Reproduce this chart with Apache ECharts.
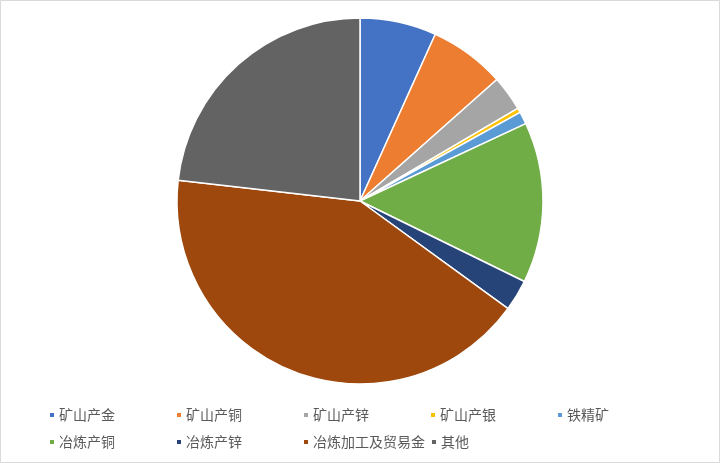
<!DOCTYPE html>
<html><head><meta charset="utf-8">
<script src="https://cdn.jsdelivr.net/npm/echarts@6/dist/echarts.min.js"></script>
<style>html,body{margin:0;padding:0;background:#fff}#c{width:720px;height:463px}</style>
</head><body><div id="c"></div>
<script>
const categories = ['矿山产金','矿山产铜','矿山产锌','矿山产银','铁精矿','冶炼产铜','冶炼产锌','冶炼加工及贸易金','其他'];
const values = [6.75, 6.7, 3.1, 0.4, 1.1, 14.2, 2.75, 41.8, 23.2];
const colors = ['#4472C4','#ED7D31','#A5A5A5','#FFC000','#5B9BD5','#70AD47','#264478','#9E480E','#636363'];

const legendPos = [[48,408],[175,408],[302,408],[429,408],[556,408],[48,435],[175,435],[302,435],[430,435]];
const legends = categories.map((n,i)=>({
  data:[n], left:legendPos[i][0], top:legendPos[i][1], icon:'rect', itemWidth:6, itemHeight:6, itemGap:0,
  padding:0, textStyle:{color:'#595959', fontSize:14, fontFamily:'"Noto Sans CJK SC", sans-serif', padding:[0,0,0,-1]},
  selectedMode:false
}));

const chart = echarts.init(document.getElementById('c'));
chart.setOption({
  animation:false,
  color: colors,
  graphic:[{type:'rect', shape:{x:0.5,y:0.5,width:719,height:462}, style:{fill:'none', stroke:'#d9d9d9', lineWidth:1}, silent:true}],
  legend: legends,
  series:[{
    type:'pie', center:[360,201], radius:[0,183], startAngle:90, clockwise:true,
    label:{show:false}, labelLine:{show:false},
    itemStyle:{borderColor:'#fff', borderWidth:1.5},
    emphasis:{disabled:true},
    data: categories.map((n,i)=>({name:n, value:values[i]}))
  }]
});
</script></body></html>
